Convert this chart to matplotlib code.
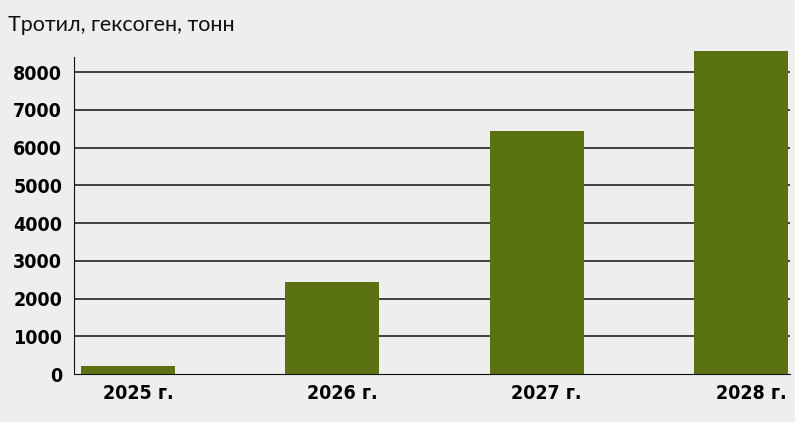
import matplotlib
matplotlib.use('Agg')
from matplotlib import pyplot as plt
from matplotlib.patches import Rectangle
from matplotlib.transforms import ScaledTranslation

years = ['2025 г.', '2026 г.', '2027 г.', '2028 г.']
values = [200, 2450, 6450, 8550]
yticks = [0, 1000, 2000, 3000, 4000, 5000, 6000, 7000, 8000]
title = 'Тротил, гексоген, тонн'

BG = '#eeeeee'
BAR = '#5a7212'


def main():
    fig = plt.figure(figsize=(8, 4.25), dpi=100, facecolor='white')
    fig.patches.append(Rectangle((0, 3 / 425), 795 / 800, 1, transform=fig.transFigure,
                                 facecolor=BG, edgecolor='none', zorder=-10))
    ax = fig.add_axes([74 / 800, 51 / 425, 716 / 800, 317 / 425])
    ax.set_facecolor(BG)

    x = range(len(years))
    ax.bar(x, values, 0.46, color=BAR, clip_on=False, zorder=3)

    ax.set_xlim(-0.265, 3.24)
    ax.set_ylim(0, 8400)
    lab = dict(family='DejaVu Sans', fontstretch='condensed', fontweight='bold', fontsize=14)
    ax.set_yticks(yticks)
    ax.set_yticklabels([str(v) for v in yticks], **lab)
    ax.set_xticks(list(x))
    ax.set_xticklabels(years, **lab)
    ax.tick_params(length=0, pad=8.5)
    ax.tick_params(axis='x', pad=7)
    # labels in the original sit a little right of the bar centres
    shift = ScaledTranslation(10 / 100, 0, fig.dpi_scale_trans)
    for t in ax.get_xticklabels():
        t.set_transform(t.get_transform() + shift)

    for v in yticks[1:]:
        ax.axhline(v, color='#222222', lw=1.2, zorder=1)

    for s in ['top', 'right']:
        ax.spines[s].set_visible(False)
    ax.spines['left'].set_color('#111111')
    ax.spines['bottom'].set_color('#111111')

    fig.text(8 / 800, 1 - 25 / 425, title, fontsize=15.5, family=['Lato', 'DejaVu Sans'],
             va='center', ha='left', color='#111111')

    fig.savefig('out.png', dpi=100, facecolor='white')


if __name__ == '__main__':
    main()
